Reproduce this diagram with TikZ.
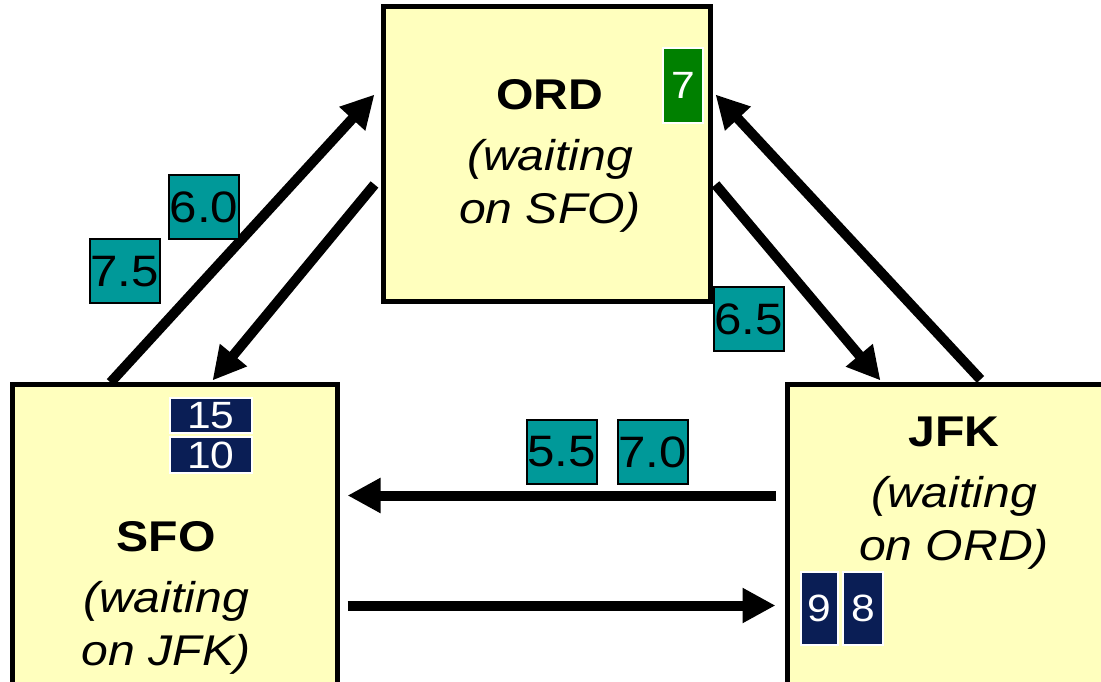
\documentclass[tikz,border=0pt]{standalone}
\usepackage{fontspec}
\setmainfont{Liberation Sans}[FakeStretch=1.12]
\usetikzlibrary{arrows.meta}
\definecolor{paleyellow}{HTML}{FFFFBE}
\definecolor{tealtag}{HTML}{009999}
\definecolor{navytag}{HTML}{0A1E55}
\definecolor{greentag}{HTML}{008000}

\begin{document}
\begin{tikzpicture}[x=1pt, y=1pt,
    airport/.style={draw, line width=5pt, fill=paleyellow, inner sep=0pt},
    cityname/.style={anchor=north, align=center, inner sep=0pt, font=\fontsize{43}{53}\selectfont},
    delay/.style={draw, line width=2pt, fill=tealtag, inner sep=0pt, minimum width=70pt, minimum height=64pt, font=\fontsize{44}{50}\selectfont},
    queue/.style={draw=white, line width=2pt, text=white, inner sep=0pt, font=\fontsize{38}{40}\selectfont},
    flow/.style={line width=10pt, -{Triangle[length=33pt, width=33pt]}}]
    \useasboundingbox (0,0) rectangle (1101,681);
    \clip (0,0) rectangle (1101,681);
    % the three airports
    \node[airport, minimum width=327pt, minimum height=295pt] (ord) at (546.5,526.5) {};
    \node[airport, minimum width=325pt, minimum height=310pt] (sfo) at (174.5,141) {};
    \node[airport, minimum width=328pt, minimum height=310pt] (jfk) at (951,141) {};
    \node[cityname] (ordtxt) at (550,602) {\textbf{ORD}\\[8pt]\textit{(waiting}\\\textit{on SFO)}};
    \node[cityname] (sfotxt) at (166,160) {\textbf{SFO}\\[8pt]\textit{(waiting}\\\textit{on JFK)}};
    \node[cityname] (jfktxt) at (954,264) {\textbf{JFK}\\[8pt]\textit{(waiting}\\\textit{on ORD)}};
    % queued work at each airport
    \node[queue, fill=greentag, minimum width=40pt, minimum height=75pt] (q7) at (683,595.5) {7};
    \node[queue, fill=navytag, minimum width=82pt, minimum height=35pt] (q15) at (211,265.5) {15};
    \node[queue, fill=navytag, minimum width=82pt, minimum height=35pt] (q10) at (211,226) {10};
    \node[queue, fill=navytag, minimum width=37pt, minimum height=73pt] (q9) at (819.5,72.5) {9};
    \node[queue, fill=navytag, minimum width=40pt, minimum height=73pt] (q8) at (863,72.5) {8};
    % flights between them
    \draw[flow] ([xshift=101pt]sfo.north west) -- ([xshift=-6pt, yshift=-90pt]ord.north west);
    \draw[flow] ([xshift=-6pt, yshift=-180pt]ord.north west) -- ([xshift=203pt, yshift=2pt]sfo.north west);
    \draw[flow] ([xshift=196pt, yshift=3pt]jfk.north west) -- ([xshift=3pt, yshift=-90pt]ord.north east);
    \draw[flow] ([xshift=3pt, yshift=-180pt]ord.north east) -- ([xshift=96pt, yshift=2pt]jfk.north west);
    \draw[flow] ([xshift=-9pt, yshift=-113pt]jfk.north west) -- ([xshift=8pt, yshift=-113pt]sfo.north east);
    \draw[flow] ([xshift=8pt, yshift=-223pt]sfo.north east) -- ([xshift=-9pt, yshift=-223pt]jfk.north west);
    % departure times
    \node[delay] (d60) at (204,474) {6.0};
    \node[delay] (d75) at (124.5,409.5) {7.5};
    \node[delay] (d65) at (748.5,361.5) {6.5};
    \node[delay] (d55) at (561.5,229) {5.5};
    \node[delay] (d70) at (652.5,229) {7.0};
\end{tikzpicture}
\end{document}
